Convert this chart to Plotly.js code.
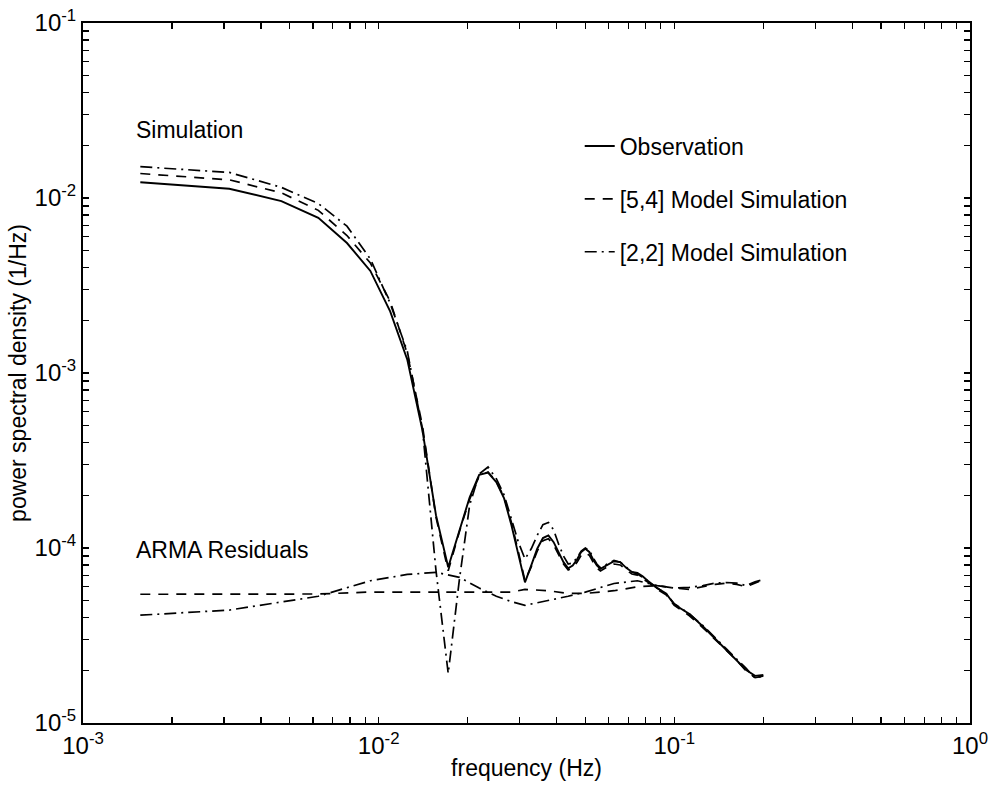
<!DOCTYPE html>
<html>
<head>
<meta charset="utf-8">
<script src="https://cdn.plot.ly/plotly-3.0.1.min.js"></script>
<style>html,body{margin:0;padding:0;background:#fff;}#chart{width:991px;height:790px;}</style>
</head>
<body>
<div id="chart"></div>
<script>
// spectral line index k; frequency = k/640 Hz
const simK = [1,2,3,4,5,6,7,8,9,10,11,12,13,14,15,16,17,18,19,20,21,22,23,24,25,26,27,28,29,30,31,32,33,34,35,36,37,38,39,40,42,44,46,48,50,52,56,60,64,72,80,88,96,104,112,120,128];
const simFreq = simK.map(k => k / 640);

const observation = [0.0123,0.0113,0.0096,0.0077,0.00553,0.00383,0.00225,0.00119,0.00047,0.000154,0.0000776,0.000126,0.000195,0.000262,0.000270,0.000238,0.000192,0.000135,0.000091,0.0000636,0.0000796,0.000099,0.000114,0.000118,0.000108,0.000095,0.000083,0.0000766,0.0000795,0.000086,0.000095,0.000099,0.000095,0.000086,0.0000795,0.000076,0.000078,0.00008,0.000082,0.000084,0.000083,0.000077,0.000073,0.000072,0.000069,0.000065,0.000059,0.000055,0.0000475,0.000042,0.0000356,0.0000303,0.0000262,0.000023,0.0000201,0.0000186,0.0000188];

const model54 = [0.0138,0.0127,0.0107,0.0085,0.0061,0.00425,0.00257,0.00129,0.00050,0.000150,0.000074,0.000124,0.000190,0.000258,0.000272,0.000240,0.000195,0.000140,0.000095,0.000065,0.000078,0.000096,0.000110,0.000113,0.000104,0.000092,0.000081,0.000075,0.000077,0.000083,0.000091,0.000094,0.000091,0.000083,0.000077,0.000074,0.000076,0.000078,0.00008,0.000081,0.00008,0.000075,0.000071,0.00007,0.000067,0.000064,0.000058,0.000054,0.000047,0.000041,0.000035,0.0000298,0.000026,0.0000228,0.0000198,0.0000182,0.0000185];

const model22 = [0.0151,0.0140,0.0115,0.0093,0.0069,0.00448,0.0025,0.00133,0.00048,0.0000745,0.0000192,0.000066,0.000176,0.000265,0.000290,0.000249,0.000201,0.000147,0.000108,0.0000865,0.000099,0.000118,0.000136,0.000140,0.000127,0.000105,0.000090,0.000081,0.000082,0.000088,0.000096,0.000100,0.000097,0.000088,0.000081,0.000077,0.000079,0.000081,0.000083,0.000085,0.000083,0.000078,0.000073,0.000071,0.000068,0.000065,0.000059,0.000055,0.000048,0.000042,0.000036,0.0000305,0.0000265,0.0000232,0.0000205,0.000018,0.0000186];

const resK = [1,2,4,6,8,10,12,14,16,18,20,24,28,32,40,48,56,64,72,80,88,96,104,112,120,128];
const resFreq = resK.map(k => k / 640);
const resid54 = [0.0000544,0.0000544,0.0000546,0.000056,0.000056,0.000056,0.000056,0.0000555,0.000056,0.000056,0.000058,0.000057,0.000055,0.000055,0.000057,0.000060,0.000061,0.000059,0.000058,0.000060,0.000062,0.000063,0.000062,0.000060,0.000063,0.000066];
const resid22 = [0.0000413,0.0000442,0.000053,0.000065,0.0000706,0.0000726,0.000068,0.000059,0.000053,0.0000494,0.000047,0.000050,0.000053,0.000056,0.0000627,0.000065,0.000061,0.000059,0.0000595,0.000061,0.000063,0.0000635,0.000063,0.000061,0.000064,0.000066];

const seriesNames = ['Observation', '[5,4] Model Simulation', '[2,2] Model Simulation'];
const xTitle = 'frequency (Hz)';
const yTitle = 'power spectral density (1/Hz)';
const xDecades = [-3, -2, -1, 0];
const yDecades = [-5, -4, -3, -2, -1];
const tickMult = [1,2,3,4,5,6,7,8,9];

function buildTicks(decades) {
  const vals = [], text = [];
  decades.forEach((e, i) => {
    tickMult.forEach(m => {
      if (m > 1 && i === decades.length - 1) return;
      vals.push(m * Math.pow(10, e));
      text.push(m === 1 ? '10<sup>' + e + '</sup>' : '');
    });
  });
  return {vals, text};
}
const xT = buildTicks(xDecades);
const yT = buildTicks(yDecades);

const DASH = '10px,8px';
const DASHDOT = '12px,5px,2px,5px';
const lw = 1.7;

const traces = [
  {x: simFreq, y: observation, name: seriesNames[0], legendgroup: 'a', mode: 'lines', line: {color: '#000', width: 1.9, dash: 'solid'}},
  {x: simFreq, y: model54, name: seriesNames[1], legendgroup: 'b', mode: 'lines', line: {color: '#000', width: lw, dash: DASH}},
  {x: simFreq, y: model22, name: seriesNames[2], legendgroup: 'c', mode: 'lines', line: {color: '#000', width: lw, dash: DASHDOT}},
  {x: resFreq, y: resid54, showlegend: false, mode: 'lines', line: {color: '#000', width: lw, dash: DASH}, hoverinfo: 'skip'},
  {x: resFreq, y: resid22, showlegend: false, mode: 'lines', line: {color: '#000', width: lw, dash: DASHDOT}, hoverinfo: 'skip'}
];

const font = 'Liberation Sans, Arial, Helvetica, sans-serif';
const axisCommon = {
  type: 'log', tickmode: 'array',
  ticks: 'inside', ticklen: 6, tickwidth: 1.2, tickcolor: '#000',
  showline: true, linecolor: '#000', linewidth: 2, mirror: 'ticks',
  showgrid: false, zeroline: false,
  tickfont: {family: font, size: 24, color: '#000'}
};

const layout = {
  width: 991, height: 790,
  margin: {l: 83, r: 21, t: 23, b: 67},
  paper_bgcolor: '#fff', plot_bgcolor: '#fff',
  font: {family: font, color: '#000'},
  xaxis: Object.assign({}, axisCommon, {range: [-3, 0], tickvals: xT.vals, ticktext: xT.text,
    title: {text: xTitle, font: {family: font, size: 23, color: '#000'}, standoff: 2}}),
  yaxis: Object.assign({}, axisCommon, {range: [-5, -1], tickvals: yT.vals, ticktext: yT.text,
    title: {text: yTitle, font: {family: font, size: 23, color: '#000'}, standoff: 2}}),
  showlegend: true,
  legend: {x: 0.56, y: 0.855, xanchor: 'left', yanchor: 'top', bgcolor: 'rgba(0,0,0,0)', borderwidth: 0,
           font: {family: font, size: 23, color: '#000'}, tracegroupgap: 20, itemwidth: 30},
  annotations: [
    {text: 'Simulation', xref: 'paper', yref: 'paper', x: 0.058, y: 0.8465, xanchor: 'left', yanchor: 'middle', showarrow: false, font: {family: font, size: 23, color: '#000'}},
    {text: 'ARMA Residuals', xref: 'paper', yref: 'paper', x: 0.058, y: 0.2468, xanchor: 'left', yanchor: 'middle', showarrow: false, font: {family: font, size: 23, color: '#000'}}
  ]
};

Plotly.newPlot('chart', traces, layout, {displayModeBar: false, staticPlot: true});
</script>
</body>
</html>
